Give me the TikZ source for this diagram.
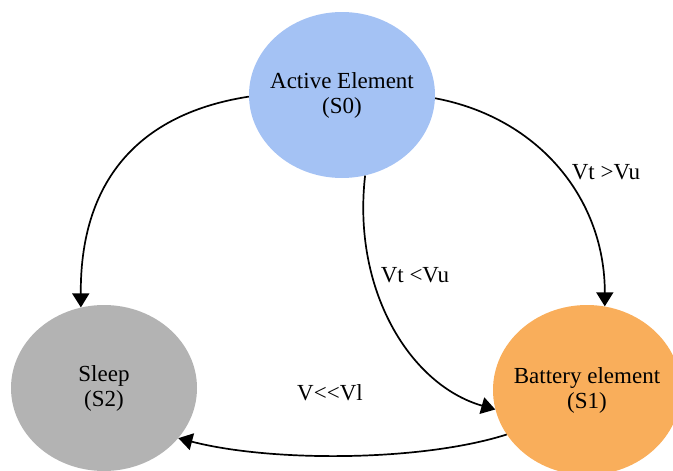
\documentclass[tikz,border=0pt]{standalone}
\usepackage{fontspec}
\setmainfont{Liberation Serif}
\usetikzlibrary{shapes.geometric,arrows.meta}
\definecolor{sblue}{HTML}{A4C2F4}
\definecolor{sorange}{HTML}{F9AE5B}
\definecolor{sgrey}{HTML}{B3B3B3}
\tikzset{
  state/.style={ellipse, inner sep=0pt},
  stxt/.style={align=center, font=\fontsize{23}{25}\selectfont, inner sep=0pt},
  trans/.style={line width=1.7pt, -{Triangle[length=14pt,width=17pt]}},
  lbl/.style={font=\fontsize{23}{25}\selectfont}
}
\begin{document}
\begin{tikzpicture}[x=1pt,y=-1pt]
\useasboundingbox (0,0) rectangle (673,471);
\clip (0,0) rectangle (673,471);
\node[state, fill=sblue, minimum width=186pt, minimum height=166pt] (s0) at (342,95) {};
\node[state, fill=sgrey, minimum width=186pt, minimum height=166pt] (s2) at (104,388) {};
\node[state, fill=sorange, minimum width=188pt, minimum height=170pt] (s1) at (587,390) {};
\node[stxt] (t0) at (s0.center) {Active Element\\(S0)};
\node[stxt] (t2) at (s2.center) {Sleep\\(S2)};
\node[stxt] (t1) at (s1.center) {Battery element\\(S1)};
\draw[trans] (s0.181) .. controls (130,115) and (80,190) .. (s2.106);
\draw[trans] (s0.358) .. controls (540,118) and (605,200) .. (s1.78);
\draw[trans] (s0.-74) .. controls (352,290) and (410,385) .. (s1.192);
\draw[trans] (s1.209) .. controls (420,462) and (270,462) .. (s2.326);
\node[lbl] (l1) at (606,172) {Vt >Vu};
\node[lbl] (l2) at (415,275) {Vt <Vu};
\node[lbl] (l3) at (330,393) {V{<}{<}Vl};
\end{tikzpicture}
\end{document}
